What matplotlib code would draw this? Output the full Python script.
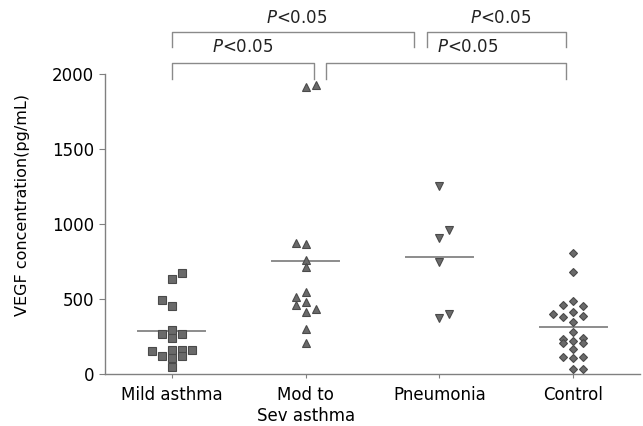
import numpy as np
import matplotlib
matplotlib.use('Agg')
import matplotlib.pyplot as plt

groups = ['Mild asthma', 'Mod to\nSev asthma', 'Pneumonia', 'Control']

# values (pg/mL), with their column slot in the dot stack
mild_vals = [671, 633, 493, 455, 293, 265, 269, 238, 155, 162, 158, 158, 120, 120, 105, 45]
mild_cols = [1, 0, -1, 0, 0, -1, 1, 0, -2, 0, 1, 2, -1, 1, 0, 0]
mod_vals = [1911, 1927, 871, 865, 760, 711, 549, 511, 460, 482, 415, 431, 297, 205]
mod_cols = [0, 1, -1, 0, 0, 0, 0, -1, -1, 0, 0, 1, 0, 0]
pneu_vals = [1253, 958, 909, 747, 400, 371]
pneu_cols = [0, 1, 0, 0, 1, 0]
ctrl_vals = [809, 682, 487, 460, 455, 398, 411, 382, 389, 349, 278,
             231, 209, 218, 238, 209, 165, 116, 109, 116, 33, 33]
ctrl_cols = [0, 0, 0, -1, 1, -2, 0, -1, 1, 0, 0,
             -1, -1, 0, 1, 1, 0, -1, 0, 1, 0, 1]
medians = [285, 755, 780, 316]

# significance brackets: (x start, x end, y top, y bottom), label x, label y
brackets = [(0, 1.81, 2282, 2182), (1.905, 2.95, 2282, 2182),
            (0, 1.06, 2071, 1965), (1.153, 2.95, 2071, 1965)]
labels_xy = [(0.93, 2370), (2.46, 2370), (0.53, 2182), (2.21, 2182)]

fig = plt.figure(figsize=(6.43, 4.26), dpi=100)
ax = fig.add_axes([0.1633, 0.1221, 0.8320, 0.7042])

step = 0.075
series = [(mild_vals, mild_cols, 's', 5.2),
          (mod_vals, mod_cols, '^', 5.2),
          (pneu_vals, pneu_cols, 'v', 5.2),
          (ctrl_vals, ctrl_cols, 'D', 4.0)]
for i, (vals, cols, mk, ms) in enumerate(series):
    xs = i + np.array(cols) * step
    ax.plot(xs, vals, linestyle='none', marker=mk, markersize=ms,
            markerfacecolor='#6a6a6a', markeredgecolor='#4a4a4a',
            markeredgewidth=0.8, zorder=3)
    ax.plot([i - 0.25, i + 0.25], [medians[i], medians[i]], color='#8c8c8c',
            lw=1.4, zorder=2)

for (x0, x1, yt, yb) in brackets:
    ax.plot([x0, x0, x1, x1], [yb, yt, yt, yb], color='#8a8a8a', lw=1.0,
            clip_on=False)
for (tx, ty) in labels_xy:
    ax.text(tx, ty, r'$\it{P}$<0.05', ha='center', va='center', fontsize=12,
            color='#222222', clip_on=False)

ax.set_xlim(-0.5, 3.5)
ax.set_ylim(0, 2000)
ax.set_yticks([0, 500, 1000, 1500, 2000])
ax.set_xticks(range(len(groups)))
ax.set_xticklabels(groups, fontsize=12)
ax.tick_params(axis='y', labelsize=12, length=4, color='#808080', pad=4)
ax.tick_params(axis='x', length=3, color='#808080', pad=6)
for s in ['top', 'right']:
    ax.spines[s].set_visible(False)
for s in ['left', 'bottom']:
    ax.spines[s].set_color('#808080')
    ax.spines[s].set_linewidth(1.0)

ax.set_ylabel('VEGF concentration(pg/mL)', fontsize=11.5)
ax.yaxis.set_label_coords(-0.140, 0.563)

fig.savefig('out.png', dpi=100)
